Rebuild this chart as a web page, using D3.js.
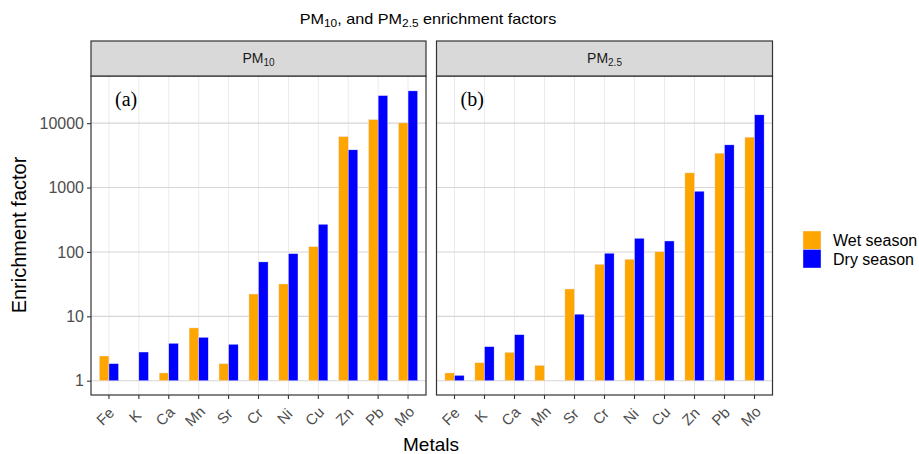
<!DOCTYPE html>
<html>
<head>
<meta charset="utf-8">
<script src="https://cdn.jsdelivr.net/npm/d3@7"></script>
<style>
  body { margin: 0; background: #fff; }
  text { font-family: "Liberation Sans", Arial, sans-serif; }
</style>
</head>
<body>
<div id="chart"></div>
<script>
// Chart data
const metals = ['Fe', 'K', 'Ca', 'Mn', 'Sr', 'Cr', 'Ni', 'Cu', 'Zn', 'Pb', 'Mo'];
const seasons = ['Wet season', 'Dry season'];
const seasonColors = ['#FFA500', '#0000FF'];
const yTicks = [1, 10, 100, 1000, 10000];

// PM10 (null = no bar)
const pm10Wet = [2.42, null, 1.32, 6.6, 1.84, 22.2, 31.8, 121, 6190, 11370, 10100];
const pm10Dry = [1.84, 2.79, 3.81, 4.72, 3.68, 70, 94, 269, 3850, 26800, 31700];
// PM2.5
const pm25Wet = [1.32, 1.9, 2.76, 1.73, 26.6, 64.4, 77, 101, 1690, 3420, 6060];
const pm25Dry = [1.21, 3.38, 5.19, null, 10.8, 95.5, 163, 148, 877, 4600, 13460];

const panels = [
  { main: 'PM', sub: '10', tag: '(a)', wet: pm10Wet, dry: pm10Dry },
  { main: 'PM', sub: '2.5', tag: '(b)', wet: pm25Wet, dry: pm25Dry }
];

const width = 919;
const height = 454;
const panelTop = 76;
const panelBottom = 395;
const stripTop = 41;
const panelX = [[91, 426], [436.5, 772.5]];

const svg = d3.select('#chart').append('svg')
  .attr('width', width)
  .attr('height', height);

const y = d3.scaleLog()
  .domain([0.6, 54000])
  .range([panelBottom, panelTop]);

// Title (source image is a bit stretched sideways)
const title = svg.append('text')
  .attr('transform', 'translate(428,24) scale(1.08,1)')
  .attr('text-anchor', 'middle')
  .attr('font-size', 15)
  .attr('fill', '#000');
title.append('tspan').text('PM');
title.append('tspan').text('10').attr('font-size', 11).attr('dy', 3);
title.append('tspan').text(', and PM').attr('dy', -3);
title.append('tspan').text('2.5').attr('font-size', 11).attr('dy', 3);
title.append('tspan').text(' enrichment factors').attr('dy', -3);

panels.forEach((p, i) => {
  const [x0, x1] = panelX[i];
  const g = svg.append('g');

  const x = d3.scaleBand()
    .domain(metals)
    .range([x0, x1])
    .paddingInner(0)
    .paddingOuter(0.1);

  const dodge = d3.scaleBand()
    .domain(seasons)
    .range([0, x.step() * 0.64]);

  // Grid lines
  g.selectAll('.vgrid')
    .data(metals)
    .join('line')
    .attr('x1', d => x(d) + x.bandwidth() / 2)
    .attr('x2', d => x(d) + x.bandwidth() / 2)
    .attr('y1', panelTop)
    .attr('y2', panelBottom)
    .attr('stroke', '#ebebeb')
    .attr('stroke-width', 1);

  g.selectAll('.hgrid')
    .data(yTicks)
    .join('line')
    .attr('x1', x0)
    .attr('x2', x1)
    .attr('y1', d => y(d))
    .attr('y2', d => y(d))
    .attr('stroke', '#d6d6d6')
    .attr('stroke-width', 1.1);

  // Bars
  const rows = [];
  metals.forEach((m, j) => {
    if (p.wet[j] != null) rows.push({ metal: m, season: seasons[0], value: p.wet[j] });
    if (p.dry[j] != null) rows.push({ metal: m, season: seasons[1], value: p.dry[j] });
  });

  g.selectAll('.bar')
    .data(rows)
    .join('rect')
    .attr('x', d => x(d.metal) + x.bandwidth() / 2 - x.step() * 0.32 + dodge(d.season))
    .attr('y', d => y(d.value))
    .attr('width', dodge.bandwidth())
    .attr('height', d => y(1) - y(d.value))
    .attr('fill', d => seasonColors[seasons.indexOf(d.season)])
    .attr('stroke', '#e8e8ff')
    .attr('stroke-width', 0.4);

  // Panel border
  g.append('rect')
    .attr('x', x0)
    .attr('y', panelTop)
    .attr('width', x1 - x0)
    .attr('height', panelBottom - panelTop)
    .attr('fill', 'none')
    .attr('stroke', '#333')
    .attr('stroke-width', 1.2);

  // Strip
  g.append('rect')
    .attr('x', x0)
    .attr('y', stripTop)
    .attr('width', x1 - x0)
    .attr('height', panelTop - stripTop)
    .attr('fill', '#d9d9d9')
    .attr('stroke', '#333')
    .attr('stroke-width', 1.2);

  const st = g.append('text')
    .attr('x', (x0 + x1) / 2)
    .attr('y', 63)
    .attr('text-anchor', 'middle')
    .attr('font-size', 14)
    .attr('fill', '#1a1a1a');
  st.append('tspan').text(p.main);
  st.append('tspan').text(p.sub).attr('font-size', 10).attr('dy', 3);

  // Panel tag
  g.append('text')
    .attr('x', x0 + 24)
    .attr('y', 106)
    .style('font-family', '"Liberation Serif", "Times New Roman", serif')
    .attr('font-size', 20)
    .attr('fill', '#000')
    .text(p.tag);

  // X axis
  const xAxis = g.append('g')
    .attr('transform', `translate(0,${panelBottom})`)
    .call(d3.axisBottom(x).tickSize(4).tickSizeOuter(0));
  xAxis.select('.domain').remove();
  xAxis.selectAll('.tick line').attr('stroke', '#333').attr('stroke-width', 1.1);
  xAxis.selectAll('.tick text')
    .attr('font-family', '"Liberation Sans", Arial, sans-serif')
    .attr('font-size', 15)
    .attr('fill', '#4d4d4d')
    .attr('text-anchor', 'middle')
    .attr('dy', null)
    .attr('y', 0)
    .attr('transform', 'translate(0,25) rotate(-45)');

  // Y axis only on the left panel
  if (i === 0) {
    const yAxis = g.append('g')
      .attr('transform', `translate(${x0},0)`)
      .call(d3.axisLeft(y).tickValues(yTicks).tickFormat(d3.format('d')).tickSize(4).tickSizeOuter(0));
    yAxis.select('.domain').remove();
    yAxis.selectAll('.tick line').attr('stroke', '#333').attr('stroke-width', 1.1);
    yAxis.selectAll('.tick text')
      .attr('font-family', '"Liberation Sans", Arial, sans-serif')
      .attr('font-size', 16)
      .attr('fill', '#4d4d4d')
      .attr('x', -7);
  }
});

// Axis titles
svg.append('text')
  .attr('transform', 'translate(26,235) rotate(-90)')
  .attr('text-anchor', 'middle')
  .attr('font-size', 20)
  .attr('fill', '#000')
  .text('Enrichment factor');

svg.append('text')
  .attr('x', 431)
  .attr('y', 451)
  .attr('text-anchor', 'middle')
  .attr('font-size', 19)
  .attr('fill', '#000')
  .text('Metals');

// Legend
const legend = svg.append('g').attr('transform', 'translate(803,231)');
seasons.forEach((s, i) => {
  legend.append('rect')
    .attr('x', 0)
    .attr('y', i * 18.5)
    .attr('width', 18)
    .attr('height', 18.5)
    .attr('fill', seasonColors[i])
    .attr('stroke', '#f0f0ff')
    .attr('stroke-width', 0.4);
  legend.append('text')
    .attr('x', 30)
    .attr('y', i * 18.5 + 15)
    .attr('font-size', 16)
    .attr('fill', '#000')
    .text(s);
});
</script>
</body>
</html>
